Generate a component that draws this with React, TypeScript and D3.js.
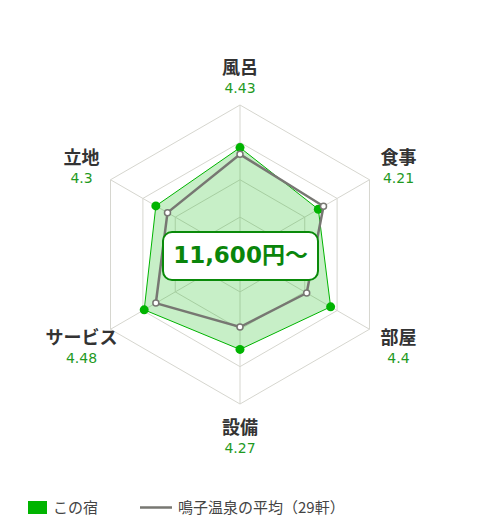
import * as d3 from 'd3'
import React, { useEffect, useRef } from 'react'

const categories = ['風呂', '食事', '部屋', '設備', 'サービス', '立地']
const hotelScores = [4.43, 4.21, 4.4, 4.27, 4.48, 4.3]
const areaAverage = [4.34, 4.29, 4.03, 3.97, 4.3, 4.12]
const ringValues = [3.5, 4, 4.5, 5]
const priceLabel = '11,600円～'
const legendLabels = ['この宿', '鳴子温泉の平均（29軒）']

const FONT = '"Noto Sans CJK JP", "Noto Sans", sans-serif'
const NUM_FONT = '"DejaVu Sans", "Noto Sans CJK JP", sans-serif'

const RadarChart = () => {
  const chartRef = useRef(null)

  useEffect(() => {
    const width = 480
    const height = 530
    const cx = 240
    const cy = 254.5
    const radius = 149.5

    const svg = d3.select(chartRef.current).attr('width', width).attr('height', height)
    svg.selectAll('*').remove()

    const r = d3.scaleLinear().domain([3, 5]).range([0, radius])
    const angle = d3
      .scaleLinear()
      .domain([0, categories.length])
      .range([0, Math.PI * 2])

    const g = svg.append('g').attr('transform', `translate(${cx}, ${cy})`)

    const radial: any = d3
      .lineRadial<number>()
      .angle((d, i) => angle(i))
      .radius((d) => r(d))
      .curve(d3.curveLinearClosed)

    // grid rings + spokes
    ringValues.forEach((v) => {
      g.append('path')
        .attr('d', radial(categories.map(() => v)))
        .attr('fill', 'none')
        .attr('stroke', '#d6d6cf')
        .attr('stroke-width', 1)
    })
    categories.forEach((c, i) => {
      const a = angle(i)
      g.append('line')
        .attr('x1', 0)
        .attr('y1', 0)
        .attr('x2', r(5) * Math.sin(a))
        .attr('y2', -r(5) * Math.cos(a))
        .attr('stroke', '#d6d6cf')
        .attr('stroke-width', 1)
    })

    // this hotel
    g.append('path')
      .attr('d', radial(hotelScores))
      .attr('fill', 'rgba(0,180,0,0.22)')
      .attr('stroke', '#00b400')
      .attr('stroke-width', 1)

    g.selectAll('.hotel-dot')
      .data(hotelScores)
      .enter()
      .append('circle')
      .attr('cx', (d, i) => r(d) * Math.sin(angle(i)))
      .attr('cy', (d, i) => -r(d) * Math.cos(angle(i)))
      .attr('r', 4.5)
      .attr('fill', '#00b400')

    // area average
    g.append('path')
      .attr('d', radial(areaAverage))
      .attr('fill', 'none')
      .attr('stroke', '#777772')
      .attr('stroke-width', 2.5)

    g.selectAll('.avg-dot')
      .data(areaAverage)
      .enter()
      .append('circle')
      .attr('cx', (d, i) => r(d) * Math.sin(angle(i)))
      .attr('cy', (d, i) => -r(d) * Math.cos(angle(i)))
      .attr('r', 3)
      .attr('fill', '#fff')
      .attr('stroke', '#777772')
      .attr('stroke-width', 1.5)

    // axis labels
    categories.forEach((c, i) => {
      const a = angle(i)
      const lx = Math.abs(Math.sin(a)) < 0.01 ? 0 : 183 * Math.sin(a)
      const ly = -180 * Math.cos(a) - 1
      g.append('text')
        .attr('x', lx)
        .attr('y', ly)
        .attr('text-anchor', 'middle')
        .attr('font-family', FONT)
        .attr('font-size', 18)
        .attr('font-weight', 'bold')
        .attr('fill', '#333')
        .text(c)
      g.append('text')
        .attr('x', lx)
        .attr('y', ly + 19)
        .attr('text-anchor', 'middle')
        .attr('font-family', NUM_FONT)
        .attr('font-size', 14)
        .attr('fill', '#1f9a1f')
        .text(hotelScores[i])
    })

    // price box
    g.append('rect')
      .attr('x', -77)
      .attr('y', -22.5)
      .attr('width', 155)
      .attr('height', 48)
      .attr('rx', 9)
      .attr('fill', '#fff')
      .attr('stroke', '#0a8a0a')
      .attr('stroke-width', 2)
    g.append('text')
      .attr('x', 0.5)
      .attr('y', 8.5)
      .attr('text-anchor', 'middle')
      .attr('font-family', NUM_FONT)
      .attr('font-size', 23)
      .attr('font-weight', 'bold')
      .attr('fill', '#0a850a')
      .text(priceLabel)

    // legend
    const legend = svg.append('g')
    legend
      .append('rect')
      .attr('x', 28)
      .attr('y', 501)
      .attr('width', 19)
      .attr('height', 13)
      .attr('fill', '#00b400')
    legend
      .append('text')
      .attr('x', 53)
      .attr('y', 512.5)
      .attr('font-family', FONT)
      .attr('font-size', 15)
      .attr('fill', '#444')
      .text(legendLabels[0])
    legend
      .append('line')
      .attr('x1', 140)
      .attr('x2', 172)
      .attr('y1', 507.5)
      .attr('y2', 507.5)
      .attr('stroke', '#777772')
      .attr('stroke-width', 2.5)
    legend
      .append('text')
      .attr('x', 178)
      .attr('y', 512.5)
      .attr('font-family', FONT)
      .attr('font-size', 15)
      .attr('fill', '#444')
      .text(legendLabels[1])
  }, [])

  return <svg ref={chartRef} style={{ position: 'absolute', left: 0, top: 0 }}></svg>
}

export default function App() {
  return <RadarChart />
}
